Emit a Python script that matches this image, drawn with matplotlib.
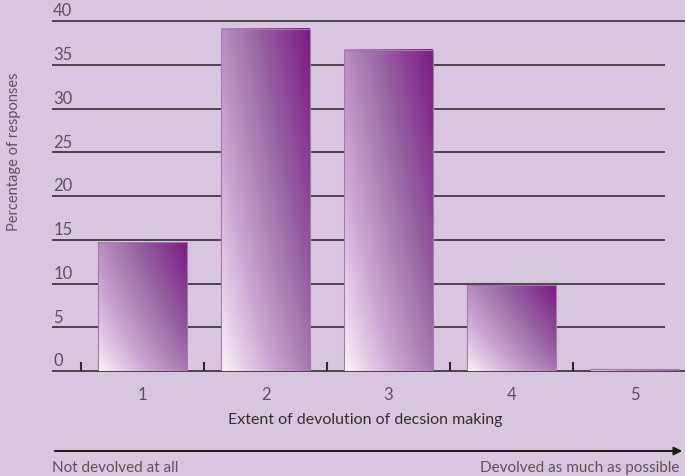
import numpy as np
import matplotlib.pyplot as plt
from matplotlib.colors import LinearSegmentedColormap

# data
categories = ['1', '2', '3', '4', '5']
responses = [14.7, 39.1, 36.7, 9.8, 0.2]
y_ticks = [0, 5, 10, 15, 20, 25, 30, 35, 40]

bg = '#d8c6df'
grid_col = '#4a4448'
text_col = '#5a545a'

plt.rcParams['font.family'] = ['Lato', 'DejaVu Sans']

fig = plt.figure(figsize=(6.85, 4.77), dpi=100)
fig.patch.set_facecolor(bg)

# axes placed by pixel position: x from 52 to 685, y from 22 to 372
W, H = 685, 477
ax = fig.add_axes([52 / W, 1 - 372 / H, (685 - 52) / W, (372 - 22) / H])
ax.set_facecolor(bg)
x = np.arange(len(categories))
x_left, x_right = -0.736, 4.41
ax.axis('off')

# horizontal rules with their numbers sitting on top
for v in y_ticks:
    end = x_right if v in (0, 40) else 4.248
    ax.plot([x_left, end], [v, v], color=grid_col, lw=1.4, zorder=1,
            clip_on=False, solid_capstyle='butt')
    ax.text(x_left + 0.01, v + 0.3, str(v), ha='left', va='bottom',
            fontsize=12, color=text_col)

# diagonal gradient: pale bottom-left to deep purple top-right
cmap = LinearSegmentedColormap.from_list(
    'grad', ['#fbf6fb', '#c9a6cf', '#9a64a5', '#7a1c84'])
gx, gy = np.meshgrid(np.linspace(0, 1, 120), np.linspace(0, 1, 240))
bar_w = 0.72
for xi, val in zip(x, responses):
    x0, x1 = xi - bar_w / 2, xi + bar_w / 2
    shade = 0.55 * gx + 0.45 * gy ** 0.8
    ax.imshow(shade, cmap=cmap, vmin=0, vmax=1, origin='lower',
              extent=[x0, x1, 0, val], aspect='auto', zorder=2,
              interpolation='bilinear')
    ax.add_patch(plt.Rectangle((x0, 0), bar_w, val, fill=False,
                               edgecolor='#a77aae', lw=0.8, zorder=3))

ax.set_xlim(x_left, x_right)
ax.set_ylim(0, 40)

# small ticks between categories
for b in np.arange(len(categories)) - 0.5:
    ax.plot([b, b], [0, 0.95], color='#2e2a2e', lw=1.5, zorder=4)

# category labels
for xi, c in zip(x, categories):
    ax.text(xi, -2.6, c, ha='center', va='center', fontsize=12,
            color=text_col)

fig.text(365 / W, 1 - 420 / H, 'Extent of devolution of decsion making',
         ha='center', va='center', fontsize=11.5, color='#333033')
fig.text(14 / W, 1 - 152 / H, 'Percentage of responses', rotation=90,
         ha='center', va='center', fontsize=10.5, color=text_col)

# scale arrow under the axis
fig.add_artist(plt.Annotation('', xy=(685 / W, 1 - 452 / H),
                              xytext=(52 / W, 1 - 452 / H),
                              xycoords='figure fraction',
                              arrowprops=dict(arrowstyle='-|>', color='#1a1a1a',
                                              lw=1.4, mutation_scale=12)))
fig.text(52 / W, 1 - 468 / H, 'Not devolved at all', ha='left', va='center',
         fontsize=11, color=text_col)
fig.text(679 / W, 1 - 468 / H, 'Devolved as much as possible', ha='right',
         va='center', fontsize=11, color=text_col)

fig.savefig('out.png', dpi=100, facecolor=bg)
